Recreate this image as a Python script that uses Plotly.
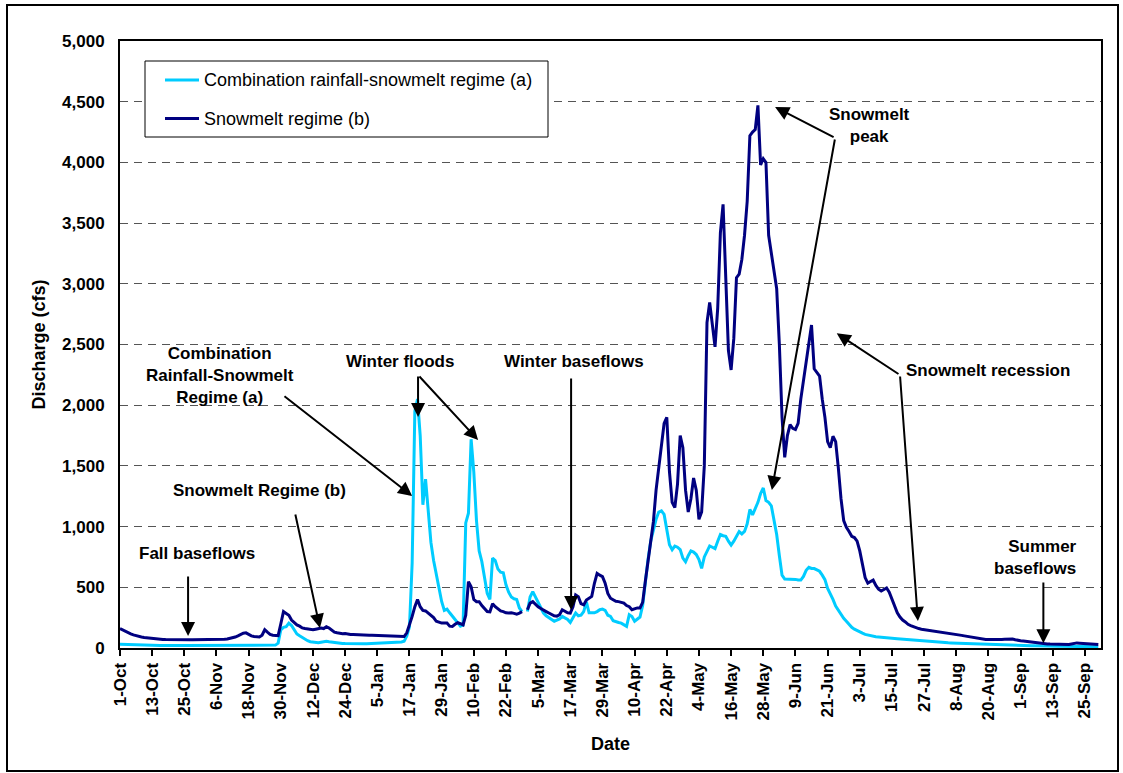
import pandas as pd
import plotly.graph_objects as go

# Daily mean discharge for a water year (1-Oct to 30-Sep, leap year; 29-Feb left blank)
START = "1999-10-01"
DATES = pd.date_range(START, periods=366, freq="D")

TICK_LABELS = [
    "1-Oct", "13-Oct", "25-Oct", "6-Nov", "18-Nov", "30-Nov", "12-Dec", "24-Dec",
    "5-Jan", "17-Jan", "29-Jan", "10-Feb", "22-Feb", "5-Mar", "17-Mar", "29-Mar",
    "10-Apr", "22-Apr", "4-May", "16-May", "28-May", "9-Jun", "21-Jun", "3-Jul",
    "15-Jul", "27-Jul", "8-Aug", "20-Aug", "1-Sep", "13-Sep", "25-Sep",
]

# Combination rainfall-snowmelt regime (a), cfs
RAIN_SNOW_A = (
    # Oct
    [30, 29, 28, 27, 26, 25, 25, 24, 24, 23, 23, 22, 22, 22, 21, 21, 21, 20, 20, 20,
     20, 20, 20, 20, 20, 20, 20, 20, 20, 20, 20]
    # Nov
    + [20, 20, 20, 21, 21, 21, 22, 22, 22, 22, 22, 22, 22, 22, 23, 23, 23, 23, 23, 23,
       23, 23, 23, 23, 23, 23, 24, 24, 40, 150]
    # Dec
    + [170, 175, 205, 185, 150, 115, 100, 85, 70, 60, 52, 48, 45, 44, 48, 54, 56, 52, 48, 45,
       42, 40, 38, 37, 36, 35, 35, 35, 35, 35, 36]
    # Jan
    + [36, 37, 37, 38, 38, 39, 39, 40, 40, 41, 42, 44, 46, 50, 55, 100, 175, 700, 1950, 2050,
       1750, 1180, 1390, 1112, 870, 720, 600, 500, 383, 310, 320]
    # Feb
    + [290, 260, 230, 205, 180, 190, 1030, 1110, 1720, 1450, 1050, 800, 711, 580, 450, 400,
       740, 720, 650, 625, 620, 520, 460, 420, 405, 400, 330, 300, None]
    # Mar
    + [300, 420, 464, 420, 370, 320, 288, 265, 250, 230, 220, 230, 240, 260, 250, 235, 210,
       250, 288, 265, 270, 300, 380, 290, 288, 290, 300, 315, 320, 310, 270]
    # Apr
    + [260, 225, 215, 210, 205, 190, 178, 274, 260, 220, 240, 255, 350, 560, 730, 880, 980,
       1060, 1120, 1130, 1100, 990, 850, 810, 840, 830, 810, 740, 710, 760]
    # May
    + [800, 790, 770, 729, 656, 750, 800, 841, 830, 818, 880, 935, 925, 920, 880, 847, 880,
       920, 959, 940, 960, 1023, 1141, 1097, 1150, 1200, 1273, 1318, 1215, 1200, 1171]
    # Jun
    + [1060, 935, 760, 600, 568, 568, 568, 568, 565, 560, 560, 590, 640, 665, 655, 654, 645,
       632, 600, 563, 490, 450, 400, 345, 310, 275, 245, 220, 195, 170]
    # Jul
    + [155, 142, 132, 122, 112, 106, 100, 96, 93, 91, 88, 86, 84, 82, 80, 78, 76, 74, 72, 70,
       68, 66, 64, 62, 60, 58, 56, 55, 53, 51, 49]
    # Aug
    + [47, 46, 45, 44, 43, 42, 41, 40, 39, 38, 37, 36, 35, 34, 33, 32, 31, 30, 29, 28,
       27, 26, 25, 24, 24, 23, 23, 22, 22, 21, 21]
    # Sep
    + [20, 20, 19, 19, 18, 18, 17, 17, 16, 16, 15, 15, 15, 14, 14, 14, 13, 13, 13, 13,
       12, 12, 12, 12, 12, 11, 11, 11, 11, 11]
)

# Snowmelt regime (b), cfs
SNOWMELT_B = (
    # Oct
    [160, 148, 136, 125, 116, 108, 101, 96, 91, 87, 84, 81, 78, 76, 74, 72, 71, 70, 69, 68,
     67, 66, 66, 65, 65, 66, 67, 68, 68, 67, 66]
    # Nov
    + [66, 66, 67, 67, 68, 68, 68, 70, 72, 75, 78, 82, 90, 100, 112, 122, 125, 110, 100, 95,
       92, 90, 105, 150, 130, 112, 105, 105, 102, 200]
    # Dec
    + [300, 285, 270, 230, 210, 190, 180, 165, 160, 155, 150, 150, 155, 160, 165, 160, 175,
       165, 150, 130, 125, 120, 118, 120, 115, 112, 112, 110, 108, 110, 108]
    # Jan
    + [106, 105, 104, 103, 102, 101, 100, 99, 98, 97, 96, 95, 94, 93, 94, 125, 185, 260, 340,
       400, 340, 310, 305, 285, 265, 250, 220, 210, 205, 205, 205]
    # Feb
    + [180, 178, 195, 208, 200, 190, 270, 546, 505, 400, 382, 382, 350, 320, 300, 298, 365,
       340, 320, 305, 300, 290, 288, 290, 285, 278, 288, 300, None]
    # Mar
    + [315, 370, 382, 360, 340, 325, 315, 300, 288, 278, 265, 262, 274, 315, 300, 290, 288,
       340, 437, 423, 365, 355, 396, 410, 425, 533, 615, 600, 588, 533, 450]
    # Apr
    + [410, 396, 385, 382, 375, 370, 350, 340, 315, 325, 330, 330, 376, 550, 720, 900, 1040,
       1300, 1500, 1680, 1850, 1900, 1450, 1200, 1156, 1350, 1750, 1650, 1300, 1120]
    # May
    + [1230, 1400, 1300, 1060, 1120, 1500, 2680, 2847, 2650, 2480, 2800, 3420, 3655, 3000,
       2450, 2290, 2550, 3050, 3080, 3200, 3400, 3680, 4220, 4250, 4270, 4470, 3980, 4030,
       4000, 3400, 3250]
    # Jun
    + [3100, 2960, 2500, 1900, 1570, 1750, 1840, 1810, 1800, 1850, 2050, 2200, 2330, 2500,
       2660, 2300, 2270, 2240, 2050, 1900, 1700, 1650, 1744, 1700, 1483, 1230, 1050, 995,
       960, 920]
    # Jul
    + [910, 880, 800, 680, 580, 535, 545, 560, 515, 485, 470, 480, 495, 460, 400, 340, 290,
       255, 230, 215, 195, 185, 175, 165, 160, 155, 152, 148, 145, 140, 137]
    # Aug
    + [135, 132, 128, 124, 122, 120, 118, 114, 108, 104, 100, 96, 92, 88, 84, 78, 75, 72, 70,
       69, 68, 68, 69, 70, 70, 72, 74, 77, 74, 68, 62]
    # Sep
    + [60, 57, 54, 50, 46, 42, 40, 38, 36, 34, 33, 32, 31, 30, 29, 28, 28, 28, 29, 33,
       40, 42, 40, 38, 36, 34, 32, 30, 29, 28]
)

SERIES_NAMES = ["Combination rainfall-snowmelt regime (a)", "Snowmelt regime (b)"]
COLORS = ["#00CCFF", "#000080"]

FONT = "Arial, 'Liberation Sans', sans-serif"
TXT = dict(family=FONT, size=17, color="black", weight="bold")

# Callout labels: (text, day offset from 1-Oct, discharge, horizontal anchor)
LABELS = [
    ("Combination<br>Rainfall-Snowmelt<br>Regime (a)", 37.3, 2247, "center"),
    ("Winter floods", 104.3, 2358, "center"),
    ("Snowmelt Regime (b)", 52.2, 1301, "center"),
    ("Fall baseflows", 28.9, 780, "center"),
    ("Winter baseflows", 169.4, 2358, "center"),
    ("Snowmelt<br>peak", 279.5, 4300, "center"),
    ("Snowmelt recession", 323.7, 2284, "center"),
    ("Summer<br>baseflows", 357.8, 748, "right"),
]

# Callout arrows: (tail day, tail cfs, head day, head cfs)
ARROWS = [
    (60.8, 2084, 109.0, 1252),
    (111.2, 2249, 111.2, 1903),
    (111.2, 2249, 133.6, 1713),
    (65.3, 1112, 74.6, 165),
    (25.4, 601, 25.4, 99),
    (168.3, 2232, 168.3, 313),
    (266.8, 4201, 244.4, 4456),
    (266.8, 4201, 243.2, 1301),
    (291.0, 2249, 267.4, 2592),
    (291.0, 2249, 297.7, 222),
    (344.5, 552, 344.5, 39),
]


def at(day):
    return (DATES[0] + pd.Timedelta(days=day)).strftime("%Y-%m-%d %H:%M:%S")


fig = go.Figure()
for name, values, color in zip(SERIES_NAMES, [RAIN_SNOW_A, SNOWMELT_B], COLORS):
    fig.add_trace(go.Scatter(
        x=DATES, y=values, name=name, mode="lines",
        line=dict(color=color, width=3), connectgaps=False, showlegend=False,
    ))

annotations = []
for text, d, v, anchor in LABELS:
    annotations.append(dict(
        x=at(d), y=v, xref="x", yref="y", text=text, showarrow=False,
        xanchor=anchor, yanchor="middle", align=anchor, font=TXT,
    ))
for td, tv, hd, hv in ARROWS:
    annotations.append(dict(
        x=at(hd), y=hv, ax=at(td), ay=tv, xref="x", yref="y", axref="x", ayref="y",
        text="", showarrow=True, arrowhead=2, arrowsize=1.4, arrowwidth=2,
        arrowcolor="black", standoff=0,
    ))

# Legend box drawn in paper coordinates of the plot area
PLOT_L, PLOT_R, PLOT_T, PLOT_B = 120, 1101, 41, 648


def px(xp):
    return (xp - PLOT_L) / (PLOT_R - PLOT_L)


def py(yp):
    return (PLOT_B - yp) / (PLOT_B - PLOT_T)


shapes = [
    dict(type="rect", xref="paper", yref="paper", x0=px(145), x1=px(548),
         y0=py(137), y1=py(61), line=dict(color="black", width=1), fillcolor="white",
         layer="above"),
    dict(type="rect", xref="paper", yref="paper", x0=px(7), x1=px(1118),
         y0=py(771), y1=py(5), line=dict(color="black", width=2), layer="above"),
]
for i, (name, color) in enumerate(zip(SERIES_NAMES, COLORS)):
    yrow = 80 + 38.5 * i
    shapes.append(dict(type="line", xref="paper", yref="paper", x0=px(165), x1=px(199),
                       y0=py(yrow), y1=py(yrow), line=dict(color=color, width=3),
                       layer="above"))
    annotations.append(dict(x=px(202), y=py(yrow), xref="paper", yref="paper", text=name,
                            showarrow=False, xanchor="left", yanchor="middle",
                            font=dict(family=FONT, size=18, color="black")))

fig.update_layout(
    width=1123, height=773,
    margin=dict(l=PLOT_L, r=1123 - PLOT_R, t=PLOT_T, b=773 - PLOT_B),
    paper_bgcolor="white", plot_bgcolor="white",
    font=dict(family=FONT, size=17, color="black"),
    showlegend=False,
    shapes=shapes,
    annotations=annotations,
    xaxis=dict(
        type="date",
        range=[DATES[0], DATES[0] + pd.Timedelta(days=366)],
        tickvals=list(DATES[::12]), ticktext=TICK_LABELS, tickangle=-90,
        ticks="outside", ticklen=6, tickwidth=1.5, tickcolor="black",
        tickfont=TXT, showgrid=False, zeroline=False,
        showline=True, linecolor="black", linewidth=2, mirror=True,
        title=dict(text="Date", font=dict(family=FONT, size=18, weight="bold"), standoff=18),
    ),
    yaxis=dict(
        range=[0, 5000], dtick=500, tickformat=",",
        ticks="", ticklabelstandoff=10, tickfont=TXT,
        showgrid=True, gridcolor="#555555", gridwidth=1, griddash="8px,6px",
        zeroline=False, showline=True, linecolor="black", linewidth=2, mirror=True,
        title=dict(text="Discharge (cfs)", font=dict(family=FONT, size=18, weight="bold"),
                   standoff=12),
    ),
)

fig.write_html("out.html")
